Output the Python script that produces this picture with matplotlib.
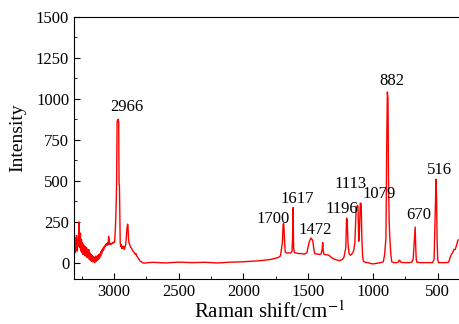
import matplotlib.pyplot as plt
from matplotlib.ticker import MultipleLocator

plt.rcParams['font.family'] = 'Liberation Serif'
plt.rcParams['mathtext.fontset'] = 'stix'

# Raman spectrum (shift in cm-1, intensity)
shift = [3310, 3305, 3300, 3296, 3292, 3288, 3284, 3280, 3276, 3272, 3270, 3267, 3263, 3259, 3255,
         3251, 3247, 3243, 3239, 3235, 3231, 3227, 3223, 3219, 3215, 3211, 3207, 3203, 3199, 3195,
         3191, 3187, 3183, 3179, 3175, 3171, 3167, 3163, 3159, 3155, 3151, 3147, 3143, 3139, 3135,
         3131, 3127, 3123, 3119, 3115, 3111, 3107, 3103, 3099, 3095, 3091, 3087, 3083, 3079, 3075,
         3070, 3065, 3060, 3055, 3050, 3045, 3042, 3039, 3036, 3030, 3025, 3020, 3015, 3010, 3005,
         3000, 2995, 2990, 2985, 2980, 2976, 2972, 2968, 2964, 2961, 2958, 2955, 2952, 2948, 2944,
         2940, 2935, 2930, 2925, 2920, 2915, 2910, 2905, 2900, 2895, 2892, 2888, 2884, 2878, 2872,
         2866, 2860, 2854, 2848, 2842, 2836, 2830, 2824, 2818, 2812, 2806, 2800, 2790, 2780, 2770,
         2700, 2600, 2500, 2400, 2300, 2200, 2100, 2000, 1950, 1900, 1850, 1800, 1760, 1730, 1715,
         1700, 1694, 1689, 1684, 1678, 1665, 1650, 1635, 1625, 1621, 1617, 1613, 1606, 1590, 1570,
         1550, 1530, 1510, 1495, 1480, 1474, 1465, 1458, 1450, 1430, 1410, 1400, 1393, 1388, 1384,
         1378, 1360, 1340, 1320, 1300, 1280, 1260, 1240, 1225, 1210, 1204, 1199, 1193, 1185, 1175,
         1165, 1150, 1140, 1130, 1120, 1116, 1110, 1104, 1098, 1091, 1086, 1080, 1075, 1060, 1040,
         1020, 1000, 980, 960, 940, 920, 910, 900, 894, 889, 884, 880, 875, 870, 862,
         855, 840, 820, 805, 798, 792, 785, 760, 740, 720, 700, 690, 674, 670, 666,
         660, 640, 600, 560, 540, 528, 513, 509, 505, 500, 494, 480, 460, 430, 415,
         405, 395, 385, 375, 365, 355, 345, 338]
intensity = [120, 170, 60, 150, 80, 165, 70, 140, 100, 160, 248, 150, 90, 180, 70,
             140, 60, 120, 50, 110, 60, 100, 40, 95, 55, 90, 30, 75, 40, 80,
             20, 60, 15, 50, 10, 45, 5, 40, 10, 35, 0, 30, 5, 40, 10,
             35, 15, 45, 20, 50, 30, 55, 40, 70, 55, 80, 70, 90, 80, 100,
             95, 110, 115, 105, 120, 110, 160, 150, 115, 110, 118, 112, 120, 118, 125,
             122, 130, 200, 300, 480, 860, 870, 875, 860, 480, 470, 300, 120, 100, 110,
             85, 100, 90, 100, 80, 95, 110, 150, 210, 235, 225, 150, 120, 110, 95,
             90, 80, 70, 65, 60, 50, 55, 40, 35, 25, 20, 10, 5, 0, -3,
             2, -2, 3, 0, 2, -2, 3, 5, 8, 10, 14, 18, 25, 32, 40,
             120, 235, 238, 150, 65, 58, 60, 58, 70, 150, 336, 90, 60, 58, 55,
             55, 52, 60, 120, 150, 145, 135, 90, 55, 52, 50, 55, 80, 122, 70,
             50, 48, 45, 30, 22, 16, 12, 18, 30, 90, 272, 260, 120, 55, 45,
             50, 70, 120, 330, 350, 345, 130, 200, 364, 360, 150, 40, 10, 2, 0,
             -5, -8, -5, -3, 0, 5, 50, 150, 700, 1042, 1000, 500, 250, 150, 50,
             5, 0, 0, 3, 15, 12, 2, 0, 0, 0, 3, 20, 217, 100, 20,
             2, 0, 0, 0, 0, 20, 509, 400, 150, 20, 0, 0, 0, 0, 3,
             30, 50, 60, 80, 80, 105, 135, 140]

peak_labels = ['2966', '1700', '1617', '1472', '1196', '1113', '1079', '882', '670', '516']
label_x = [2902, 1769, 1583, 1450, 1244, 1177, 949, 856, 644, 490]
label_y = [950, 269, 391, 202, 330, 483, 417, 1109, 289, 568]

fig = plt.figure(figsize=(4.59, 3.24), dpi=100)
ax = fig.add_axes([0.1612, 0.1389, 0.8627, 0.8086])
ax.plot(shift, intensity, color='red', linewidth=1.0)

for lab, lx, ly in zip(peak_labels, label_x, label_y):
    ax.text(lx, ly, lab, ha='center', va='center', fontsize=12)

ax.set_xlim(3309, 251)
ax.set_ylim(-100, 1500)
ax.xaxis.set_major_locator(MultipleLocator(500))
ax.xaxis.set_minor_locator(MultipleLocator(250))
ax.yaxis.set_major_locator(MultipleLocator(250))
ax.yaxis.set_minor_locator(MultipleLocator(125))
ax.tick_params(which='both', direction='in', labelsize=12, top=False, right=False)
ax.tick_params(which='major', length=4)
ax.tick_params(which='minor', length=2.5)
ax.spines['right'].set_visible(False)

fig.text(269 / 459, 1 - 312 / 324, 'Raman shift/cm$^{-1}$', fontsize=15,
         ha='center', va='center')
fig.text(18 / 459, 1 - 138 / 324, 'Intensity', fontsize=14,
         ha='center', va='center', rotation=90)

fig.savefig('out.png', dpi=100)
